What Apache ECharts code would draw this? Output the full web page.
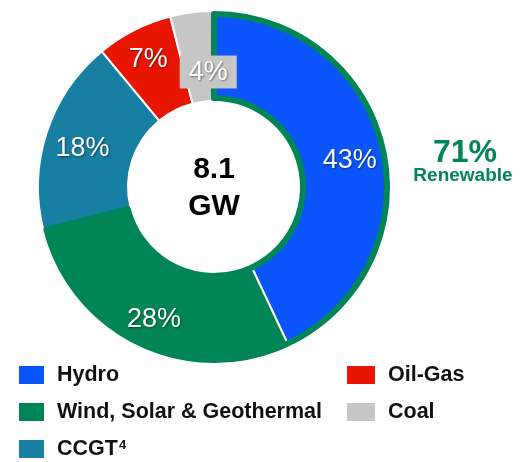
<!DOCTYPE html>
<html>
<head>
<meta charset="utf-8">
<script src="https://cdn.jsdelivr.net/npm/echarts@6/dist/echarts.min.js"></script>
<style>
  html, body { margin: 0; padding: 0; background: #fff; }
  #chart { width: 525px; height: 462px; }
</style>
</head>
<body>
<div id="chart"></div>
<script>
// capacity mix (percent)
const categories = ['Hydro', 'Wind, Solar & Geothermal', 'CCGT4', 'Oil-Gas', 'Coal'];
const shares = [43, 28, 18, 7, 4];
const colors = ['#0A55FB', '#008556', '#177FA1', '#E81500', '#C6C6C6'];
const renewableShare = [71, 29];
const totalLabel = ['8.1', 'GW'];

const chart = echarts.init(document.getElementById('chart'));

const center = [214, 187];
const radius = [86, 176];
const labelOffsets = [[5, 3], [-3, 11], [-4, 3], [-5, -8], [11, 18]];

const sliceLabel = {
  position: 'inside',
  formatter: '{c}%',
  fontFamily: 'Liberation Sans',
  fontSize: 27,
  color: '#fff',
  textBorderWidth: 0,
  textShadowColor: 'rgba(0,0,0,0.45)',
  textShadowBlur: 2,
  textShadowOffsetX: 1,
  textShadowOffsetY: 1
};

const legendText = {
  fontFamily: 'Liberation Sans',
  fontWeight: 'bold',
  fontSize: 21.5,
  color: '#111',
  rich: {
    n: { fontFamily: 'Liberation Sans', fontWeight: 'bold', fontSize: 21.5, lineHeight: 20, color: '#111', padding: [0, 0, 0, 7] },
    sup: { fontFamily: 'Liberation Sans', fontWeight: 'bold', fontSize: 13, lineHeight: 20, color: '#111', verticalAlign: 'top', padding: [0, 0, 9, 1] }
  }
};
const legendFormatter = function (name) {
  if (name === 'CCGT4') return '{n|CCGT}{sup|4}';
  return '{n|' + name + '}';
};

const option = {
  animation: false,
  color: colors,
  legend: [
    {
      orient: 'vertical',
      left: 17, top: 364, height: 200, padding: 0,
      itemWidth: 27, itemHeight: 20, itemGap: 15,
      icon: 'rect',
      data: categories.slice(0, 3),
      textStyle: legendText,
      formatter: legendFormatter,
      selectedMode: false
    },
    {
      orient: 'vertical',
      left: 345, top: 364, height: 200, padding: 0,
      itemWidth: 30, itemHeight: 20, itemGap: 15,
      icon: 'rect',
      data: categories.slice(3),
      textStyle: legendText,
      formatter: legendFormatter,
      selectedMode: false
    }
  ],
  graphic: [
    {
      type: 'text', x: center[0], y: 170,
      style: { text: totalLabel[0], align: 'center', verticalAlign: 'middle',
        font: 'bold 30px "Liberation Sans"', fill: '#000' }
    },
    {
      type: 'text', x: center[0], y: 207,
      style: { text: totalLabel[1], align: 'center', verticalAlign: 'middle',
        font: 'bold 30px "Liberation Sans"', fill: '#000' }
    },
    {
      type: 'text', x: 465, y: 153,
      style: { text: renewableShare[0] + '%', align: 'center', verticalAlign: 'middle',
        font: 'bold 32px "Liberation Sans"', fill: '#008556' }
    },
    {
      type: 'text', x: 463, y: 176,
      style: { text: 'Renewable', align: 'center', verticalAlign: 'middle',
        font: 'bold 19px "Liberation Sans"', fill: '#008556' }
    }
  ],
  series: [
    {
      type: 'pie',
      center: center,
      radius: radius,
      startAngle: 90,
      clockwise: true,
      silent: true,
      itemStyle: { borderColor: '#fff', borderWidth: 2 },
      label: sliceLabel,
      labelLine: { show: false },
      data: categories.map(function (name, i) {
        return {
          name: name,
          value: shares[i],
          // the coal label is drawn by the outline series so it sits above the green border
          label: name === 'Coal' ? { show: false } : { offset: labelOffsets[i] }
        };
      })
    },
    {
      // green outline around the renewable part
      type: 'pie',
      center: center,
      radius: [radius[0] + 3, radius[1] - 3],
      startAngle: 90,
      silent: true,
      z: 3,
      label: Object.assign({}, sliceLabel, { show: false }),
      labelLine: { show: false },
      data: [
        { value: shares[0] + shares[1], itemStyle: { color: 'rgba(0,0,0,0)', borderColor: '#008556', borderWidth: 6 } },
        { value: shares[2] + shares[3], itemStyle: { color: 'rgba(0,0,0,0)', borderWidth: 0 } },
        {
          value: shares[4],
          itemStyle: { color: 'rgba(0,0,0,0)', borderWidth: 0 },
          label: { show: true, offset: labelOffsets[4], backgroundColor: '#C6C6C6', padding: [3, 9, 3, 9] }
        }
      ]
    }
  ]
};

chart.setOption(option);
</script>
</body>
</html>
